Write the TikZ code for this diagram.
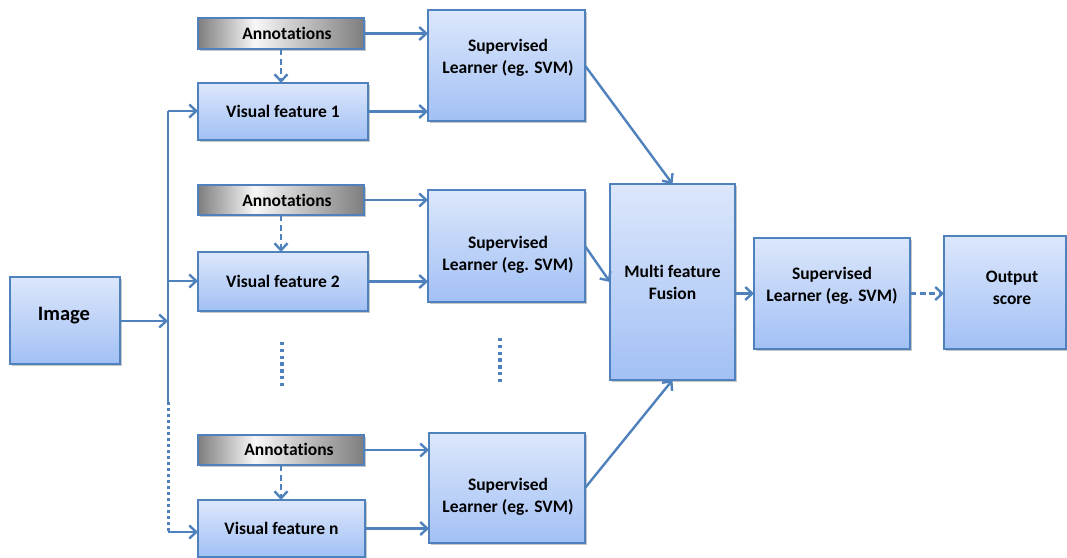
\documentclass[tikz,border=0pt]{standalone}
\usepackage{fontspec}
\setmainfont[Ligatures=NoCommon]{Carlito}
\usetikzlibrary{arrows.meta,shadows}

\definecolor{edge}{HTML}{4F81BD}
\definecolor{btop}{HTML}{DCE7FB}
\definecolor{bbot}{HTML}{A2C0F5}
\definecolor{gdark}{HTML}{7E7E7E}
\definecolor{glight}{HTML}{F7F7F7}

% grey bar with its bright band left of centre
\pgfdeclarehorizontalshading{annotshade}{100bp}{color(0bp)=(gdark); color(25bp)=(gdark); color(42bp)=(glight); color(75bp)=(gdark); color(100bp)=(gdark)}

\tikzset{
  base/.style={draw=edge, line width=2.3pt, inner sep=0pt, outer sep=0pt,
    drop shadow={shadow xshift=1.8pt, shadow yshift=-1.8pt, fill=black, opacity=0.22}},
  box/.style={base, top color=btop, bottom color=bbot},
  annot/.style={base, shading=annotshade},
  lbl/.style={align=center, inner sep=0pt, font=\bfseries\fontsize{17.5}{22}\selectfont},
  conn/.style={draw=edge, line width=2.4pt},
  arr/.style={conn, -{Straight Barb[length=7pt,width=13pt,line width=2.4pt]}},
  darr/.style={arr, dash pattern=on 6pt off 3.5pt},
  dots/.style={draw=edge, line width=3.4pt, dash pattern=on 3.4pt off 3.4pt},
}

\begin{document}
\begin{tikzpicture}[x=1pt,y=-1pt]
\useasboundingbox[fill=white] (0,0) rectangle (1067,557);

% input
\node[box, minimum width=110pt, minimum height=87pt, anchor=north west] (img) at (10,277) {};
\node[lbl, font=\bfseries\fontsize{20.5}{24}\selectfont] (imgt) at (64,316) {Image};

% feature branches
\node[annot, minimum width=166pt, minimum height=31pt, anchor=north west] (ann1) at (198,18) {};
\node[lbl] (ann1t) at (287,33) {Annotations};
\node[box, minimum width=170pt, minimum height=57pt, anchor=north west, lbl] (vf1) at (198,83) {Visual feature 1};
\node[annot, minimum width=166pt, minimum height=30pt, anchor=north west] (ann2) at (198,185) {};
\node[lbl] (ann2t) at (287,200) {Annotations};
\node[box, minimum width=170pt, minimum height=59pt, anchor=north west, lbl] (vf2) at (198,252) {Visual feature 2};
\node[annot, minimum width=166pt, minimum height=30pt, anchor=north west] (ann3) at (198,435) {};
\node[lbl] (ann3t) at (289,449) {Annotations};
\node[box, minimum width=167pt, minimum height=57pt, anchor=north west, lbl] (vfn) at (198,500) {Visual feature n};

% per-feature learners
\node[box, minimum width=157pt, minimum height=111pt, anchor=north west] (sl1) at (428,10) {};
\node[lbl] (sl1t) at (508,58) {Supervised\\Learner (eg. SVM)};
\node[box, minimum width=157pt, minimum height=112pt, anchor=north west] (sl2) at (428,190) {};
\node[lbl] (sl2t) at (508,255) {Supervised\\Learner (eg. SVM)};
\node[box, minimum width=156pt, minimum height=110pt, anchor=north west] (sl3) at (429,433) {};
\node[lbl] (sl3t) at (508,497) {Supervised\\Learner (eg. SVM)};

% fusion and final stage
\node[box, minimum width=125pt, minimum height=196pt, anchor=north west, lbl] (fus) at (610,184) {Multi feature\\Fusion};
\node[box, minimum width=156pt, minimum height=111pt, anchor=north west] (sl4) at (754,238) {};
\node[lbl] (sl4t) at (832,286) {Supervised\\Learner (eg. SVM)};
\node[box, minimum width=122pt, minimum height=113pt, anchor=north west] (out) at (944,236) {};
\node[lbl] (outt) at (1012,288) {Output\\score};

% distribution trunk
\coordinate (tj) at (168,321);
\coordinate (t1) at (168,111);
\coordinate (t2) at (168,281);
\coordinate (td) at (168,402);
\coordinate (tn) at (168,532);
\draw[arr] (img.east |- tj) -- (tj);
\draw[conn] (t1) -- (td);
\draw[dots, line width=3pt, dash pattern=on 3pt off 3pt] (td) -- (tn);
\draw[arr] (t1) -- (t1 -| vf1.west);
\draw[arr] (t2) -- (t2 -| vf2.west);
\draw[arr] (tn) -- (tn -| vfn.west);

% annotations feed the features
\draw[darr] (ann1.south) -- (ann1.south |- vf1.north);
\draw[darr] (ann2.south) -- (ann2.south |- vf2.north);
\draw[darr] (ann3.south) -- (ann3.south |- vfn.north);

% into the learners
\draw[arr] (ann1.east) -- (ann1.east -| sl1.west);
\draw[arr] (vf1.east) -- (vf1.east -| sl1.west);
\draw[arr] (ann2.east) -- (ann2.east -| sl2.west);
\draw[arr] (vf2.east) -- (vf2.east -| sl2.west);
\draw[arr] (ann3.east) -- (ann3.east -| sl3.west);
\draw[arr] (vfn.east) -- (vfn.east -| sl3.west);

% learners into fusion
\draw[arr] (sl1.east) -- (fus.north);
\draw[arr] (sl2.east) -- (fus.west);
\draw[arr] (sl3.east) -- (fus.south);
\draw[arr] (sl4.west -| fus.east) -- (sl4.west);
\draw[darr] (sl4.east) -- (sl4.east -| out.west);

% elided branches
\draw[dots] (282,342) -- (282,388);
\draw[dots] (500,338) -- (500,384);
\end{tikzpicture}
\end{document}
